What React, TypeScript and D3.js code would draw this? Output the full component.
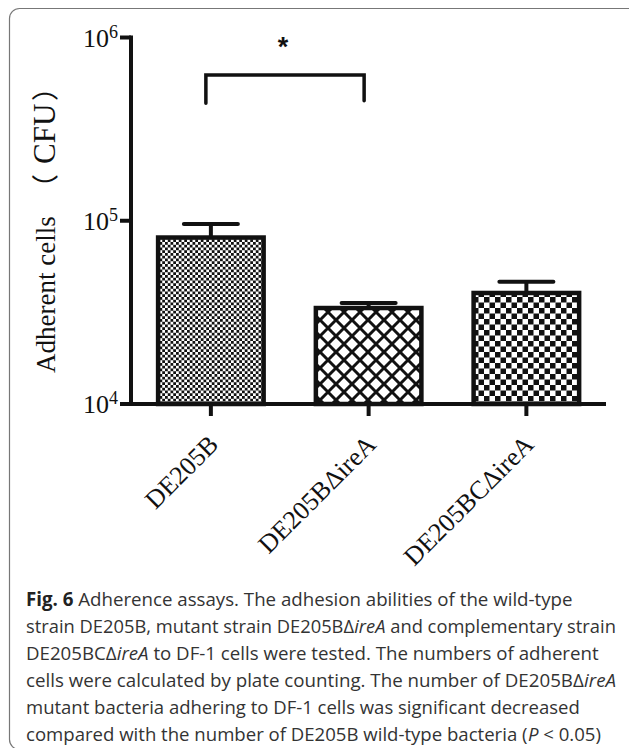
import React from 'react';
import * as d3 from 'd3';

// ---- data ----
const categories = ['DE205B', 'DE205BΔireA', 'DE205BCΔireA'];
const means = [81000, 33400, 40350];
const upperErrors = [95900, 35600, 46450];
const yTicks = [1e4, 1e5, 1e6];
const yTickExponents = ['4', '5', '6'];
const bracketPair = [0, 1];
const bracketTopValue = 624000;
const bracketEndValues = [438000, 451000];
const significanceMark = '*';
const yAxisLabelMain = 'Adherent cells';
const yAxisLabelOpen = '（';
const yAxisLabelUnit = 'CFU';
const yAxisLabelClose = '）';
const patternIds = ['pat-fine', 'pat-hatch', 'pat-check'];

type Seg = { t: string; b?: boolean; i?: boolean };
const captionLines: Seg[][] = [
  [{ t: 'Fig. 6', b: true }, { t: ' Adherence assays. The adhesion abilities of the wild-type' }],
  [{ t: 'strain DE205B, mutant strain DE205BΔ' }, { t: 'ireA', i: true }, { t: ' and complementary strain' }],
  [{ t: 'DE205BCΔ' }, { t: 'ireA', i: true }, { t: ' to DF-1 cells were tested. The numbers of adherent' }],
  [{ t: 'cells were calculated by plate counting. The number of DE205BΔ' }, { t: 'ireA', i: true }],
  [{ t: 'mutant bacteria adhering to DF-1 cells was significant decreased' }],
  [{ t: 'compared with the number of DE205B wild-type bacteria (' }, { t: 'P', i: true }, { t: ' < 0.05)' }],
];
const captionWidths = [547, 590, 573, 590, 554, 575];

const W = 629;
const H = 748;
const axisX = 131;
const axisY = 404;
const serif = '"Liberation Serif", "Times New Roman", "DejaVu Serif", serif';
const cjk = '"Noto Sans CJK SC", "Noto Sans CJK JP", serif';
const capFamily = '"Open Sans", "Noto Sans", sans-serif';
const capSize = 19;

function measure(ctx: CanvasRenderingContext2D | null, s: Seg) {
  if (!ctx) return s.t.length * capSize * 0.52;
  ctx.font = `${s.i ? 'italic ' : ''}${s.b ? '700 ' : '400 '}${capSize}px ${capFamily}`;
  return ctx.measureText(s.t).width;
}

export default function App() {
  const y = d3.scaleLog().domain([1e4, 1e6]).range([axisY, 37.5]);
  const x = d3
    .scaleBand<string>()
    .domain(categories)
    .range([132, 605.25])
    .paddingInner(0.331)
    .paddingOuter(0.1655);
  const bw = x.bandwidth();
  const cx = (c: string) => (x(c) as number) + bw / 2;

  const bl = cx(categories[bracketPair[0]]) - 5;
  const br = cx(categories[bracketPair[1]]) - 4.5;
  const bTop = y(bracketTopValue);

  const ctx =
    typeof document !== 'undefined' ? document.createElement('canvas').getContext('2d') : null;
  const layout = captionLines.map((line, li) => {
    const widths = line.map((s) => measure(ctx, s));
    const total = widths.reduce((a, b) => a + b, 0);
    const sx = captionWidths[li] / total;
    let acc = 0;
    const xs = widths.map((w) => {
      const v = acc;
      acc += w;
      return v;
    });
    return { sx, xs };
  });

  return (
    <svg
      width={W}
      height={H}
      style={{ position: 'absolute', left: 0, top: 0, background: '#fff' }}
    >
      <defs>
        <pattern id="pat-fine" width={5.5} height={5.5} patternUnits="userSpaceOnUse">
          <rect width={5.5} height={5.5} fill="#fff" />
          <rect x={0} y={0} width={2.75} height={2.75} fill="#111" />
          <rect x={2.75} y={2.75} width={2.75} height={2.75} fill="#111" />
        </pattern>
        <pattern id="pat-hatch" width={16} height={16} patternUnits="userSpaceOnUse">
          <rect width={16} height={16} fill="#fff" />
          <path d="M-4,-4 L20,20 M-4,20 L20,-4 M-4,12 L4,20 M12,-4 L20,4 M-4,4 L4,-4 M12,20 L20,12" stroke="#111" strokeWidth={3} />
        </pattern>
        <pattern id="pat-check" width={11} height={11} patternUnits="userSpaceOnUse">
          <rect width={11} height={11} fill="#fff" />
          <rect x={0} y={0} width={5.5} height={5.5} fill="#111" />
          <rect x={5.5} y={5.5} width={5.5} height={5.5} fill="#111" />
        </pattern>
      </defs>

      {/* frame */}
      <rect x={9.5} y={8.5} width={640} height={741} rx={10} ry={10} fill="none" stroke="#777" strokeWidth={1.2} />

      {/* bars */}
      {categories.map((c, i) => (
        <rect
          key={c}
          x={x(c)}
          y={y(means[i])}
          width={bw}
          height={axisY - y(means[i])}
          fill={`url(#${patternIds[i]})`}
          stroke="#111"
          strokeWidth={4.5}
        />
      ))}

      {/* error bars */}
      {categories.map((c, i) => (
        <g key={c} stroke="#111" strokeWidth={4} strokeLinecap="round">
          <line x1={cx(c)} x2={cx(c)} y1={y(means[i])} y2={y(upperErrors[i])} strokeLinecap="butt" />
          <line x1={cx(c) - 27} x2={cx(c) + 27} y1={y(upperErrors[i])} y2={y(upperErrors[i])} />
        </g>
      ))}

      {/* axes */}
      <g stroke="#111" strokeWidth={4} fill="none">
        <line x1={axisX} x2={axisX} y1={y(1e6) - 2} y2={axisY + 2} />
        <line x1={axisX - 2} x2={606} y1={axisY} y2={axisY} />
        {yTicks.map((t) => (
          <line key={t} x1={axisX - 11} x2={axisX} y1={y(t)} y2={y(t)} />
        ))}
        {categories.map((c) => (
          <line key={c} x1={cx(c)} x2={cx(c)} y1={axisY} y2={axisY + 12} />
        ))}
      </g>

      {/* y tick labels */}
      {yTicks.map((t, i) => (
        <text key={t} x={118} y={y(t) + 9} textAnchor="end" fontFamily={serif} fontSize={26} fill="#111">
          10
          <tspan dy={-9} fontSize={18}>{yTickExponents[i]}</tspan>
        </text>
      ))}

      {/* y axis label */}
      <g transform="translate(55,373) rotate(-90)" fill="#111" fontSize={27}>
        <text x={0} y={0} fontFamily={serif}>{yAxisLabelMain}</text>
        <text x={172} y={0} fontFamily={cjk}>{yAxisLabelOpen}</text>
        <text x={209} y={0} fontFamily={serif} fontSize={31}>{yAxisLabelUnit}</text>
        <text x={272} y={0} fontFamily={cjk}>{yAxisLabelClose}</text>
      </g>

      {/* x tick labels */}
      {categories.map((c) => (
        <text
          key={c}
          transform={`translate(${cx(c) + 9},446) rotate(-45)`}
          textAnchor="end"
          fontFamily={serif}
          fontSize={26}
          fill="#111"
        >
          {c}
        </text>
      ))}

      {/* significance bracket */}
      <path
        d={`M${bl},${y(bracketEndValues[0])} L${bl},${bTop} L${br},${bTop} L${br},${y(bracketEndValues[1])}`}
        fill="none"
        stroke="#111"
        strokeWidth={3.5}
        strokeLinecap="round"
        strokeLinejoin="miter"
      />
      <text x={(bl + br) / 2 - 2} y={56} textAnchor="middle" fontFamily='"Liberation Sans", Arial, sans-serif' fontSize={27} fontWeight={700} fill="#111">
        {significanceMark}
      </text>

      {/* caption */}
      {captionLines.map((line, li) => (
        <g key={li} transform={`translate(26,${606 + li * 27}) scale(${layout[li].sx},1)`}>
          {line.map((s, si) => (
            <text
              key={si}
              x={layout[li].xs[si]}
              y={0}
              fontFamily={capFamily}
              fontSize={capSize}
              fontWeight={s.b ? 700 : 400}
              fontStyle={s.i ? 'italic' : 'normal'}
              fill={s.b ? '#222' : '#333'}
              style={{ whiteSpace: 'pre' }}
            >
              {s.t}
            </text>
          ))}
        </g>
      ))}
    </svg>
  );
}
